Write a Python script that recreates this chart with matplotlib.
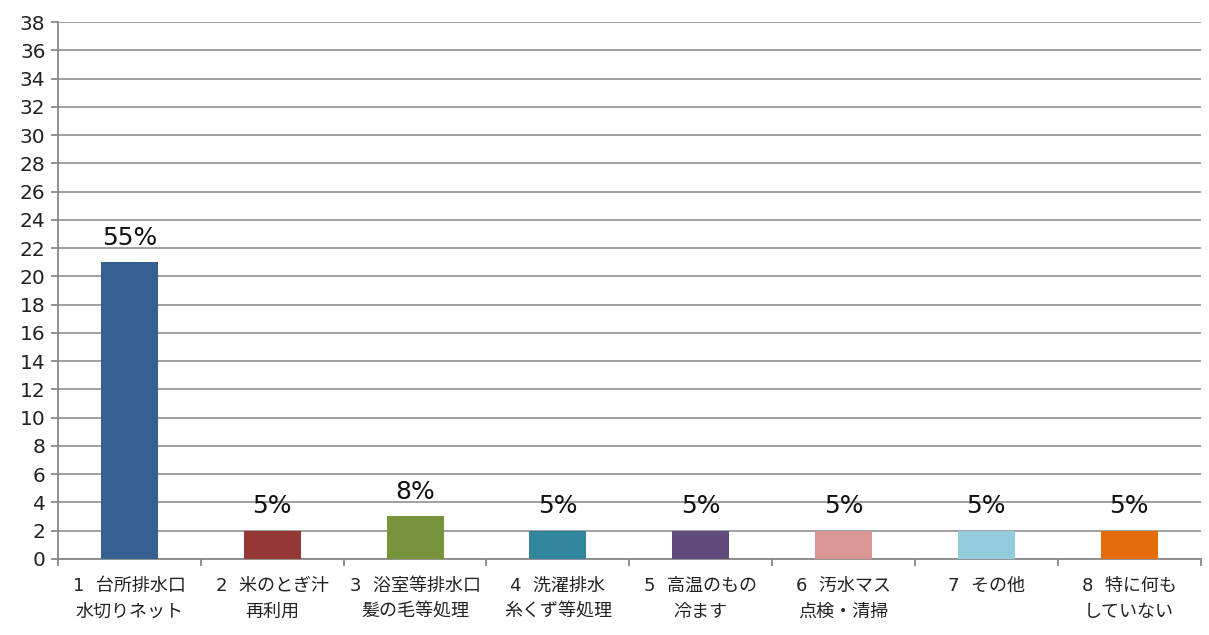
import matplotlib.pyplot as plt
import numpy as np

plt.rcParams['font.family'] = ['DejaVu Sans', 'Noto Sans CJK JP']

# 対策ごとの回答数（回答者 38 名）
categories = ['1  台所排水口\n水切りネット', '2  米のとぎ汁\n再利用', '3  浴室等排水口\n髪の毛等処理',
              '4  洗濯排水\n糸くず等処理', '5  高温のもの\n冷ます', '6  汚水マス\n点検・清掃',
              '7  その他\n', '8  特に何も\nしていない']
counts = [21, 2, 3, 2, 2, 2, 2, 2]
respondents = 38
colors = ['#376092', '#953735', '#77933C', '#31859C', '#604A7B', '#D99694', '#93CDDD', '#E46C0A']

fig = plt.figure(figsize=(12.09, 6.35), dpi=100)
ax = fig.add_axes([0.048, 0.12, 0.945, 0.845])

x = np.arange(len(counts))
bars = ax.bar(x, counts, width=0.4, color=colors, zorder=3)

for b, v in zip(bars, counts):
    pct = round(v / respondents * 100)
    ax.annotate(f'{pct}%', (b.get_x() + b.get_width() / 2, v), xytext=(0, 9),
                textcoords='offset points', ha='center', va='bottom', fontsize=18,
                color='#111111')

ax.set_xlim(-0.5, len(counts) - 0.5)
ax.set_ylim(0, 38)
ax.set_yticks(range(0, 39, 2))
ax.grid(axis='y', color='#999999', linewidth=1.3, zorder=0)

# 区切り位置に目盛り、ラベルは中央に
ax.set_xticks(np.arange(-0.5, len(counts)), minor=False)
ax.set_xticklabels([])
ax.set_xticks(x, minor=True)
ax.set_xticklabels(categories, minor=True, fontsize=13, linespacing=1.55, color='#222222')
ax.tick_params(axis='x', which='minor', length=0, pad=13)
ax.tick_params(axis='x', which='major', length=5, width=1.3, color='#888888')
ax.tick_params(axis='y', length=5, width=1.3, color='#888888', labelsize=14.5,
               labelcolor='#222222', pad=4)

for s in ['top', 'right']:
    ax.spines[s].set_visible(False)
for s in ['left', 'bottom']:
    ax.spines[s].set_color('#888888')
    ax.spines[s].set_linewidth(1.3)

fig.savefig('out.png', dpi=100)
